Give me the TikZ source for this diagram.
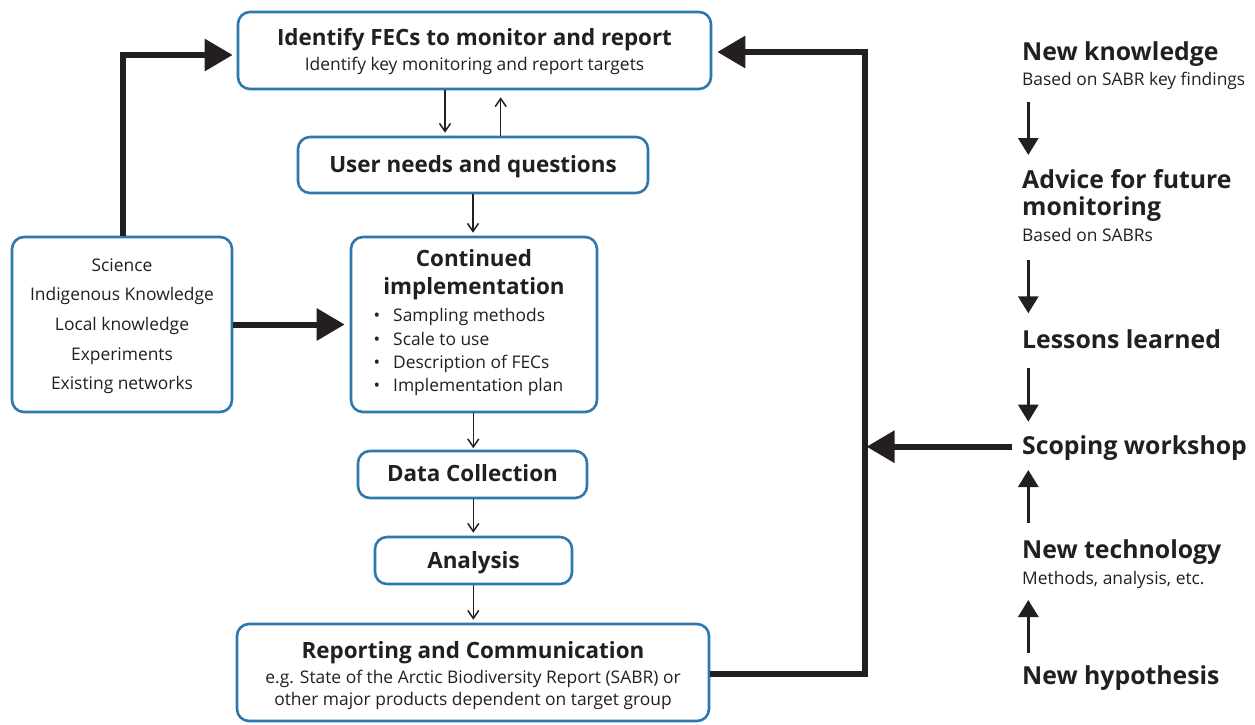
\documentclass[tikz,border=0pt]{standalone}
\usepackage{fontspec}
\setmainfont{Open Sans}
\usetikzlibrary{arrows.meta}
\definecolor{boxblue}{HTML}{2E78AE}
\definecolor{ink}{HTML}{231F20}
\newcommand\hdfont{\fontsize{22.4}{27}\selectfont\bfseries}
\newcommand\bodyfont{\fontsize{17.4}{22}\selectfont}
\newcommand\sidefont{\fontsize{24.8}{27}\selectfont\bfseries}
\begin{document}
\begin{tikzpicture}[x=1pt,y=-1pt,
  frame/.style={draw=boxblue,line width=2.6pt,rounded corners=12pt,fill=white,inner sep=0pt},
  hd/.style={anchor=base,inner sep=0pt,text=ink,font=\hdfont},
  body/.style={anchor=base,inner sep=0pt,text=ink,font=\bodyfont},
  bodyw/.style={anchor=base west,inner sep=0pt,text=ink,font=\bodyfont},
  side/.style={anchor=base west,inner sep=0pt,text=ink,font=\sidefont},
  sidesub/.style={anchor=base west,inner sep=0pt,text=ink,font=\bodyfont},
  thin/.style={draw=ink,line width=1.5pt,-{Straight Barb[length=8pt,width=11pt,line width=1.5pt]}},
  heavy/.style={draw=ink,line width=6pt,line join=miter,-{Triangle[length=28pt,width=31pt]}},
  mid/.style={draw=ink,line width=3pt,-{Triangle[length=17pt,width=20pt]}}]
\useasboundingbox (0,0) rectangle (1255,724);

% boxes of the main flow
\node[frame,minimum width=473pt,minimum height=77pt] (idf) at (474.5,50.5) {};
\node[frame,minimum width=350pt,minimum height=56pt] (user) at (473,165) {};
\node[frame,minimum width=220pt,minimum height=175pt] (src) at (122,324.5) {};
\node[frame,minimum width=246pt,minimum height=175pt] (cont) at (474,324.5) {};
\node[frame,minimum width=229pt,minimum height=47pt] (data) at (472.5,474.5) {};
\node[frame,minimum width=197pt,minimum height=47pt] (anl) at (473.5,560.5) {};
\node[frame,minimum width=472pt,minimum height=97pt] (rep) at (473,672.5) {};

% box texts
\node[hd] (idfT) at (474.5,45) {Identify FECs to monitor and report};
\node[body] (idfS) at (474.5,70) {Identify key monitoring and report targets};
\node[hd] (userT) at (473,172) {User needs and questions};

\node[body] (src1) at (122,271.7) {Science};
\node[body] (src2) at (122,300.7) {Indigenous Knowledge};
\node[body] (src3) at (122,330) {Local knowledge};
\node[body] (src4) at (122,360) {Experiments};
\node[body] (src5) at (122,389.3) {Existing networks};

\node[hd] (contT1) at (474,266.7) {Continued};
\node[hd] (contT2) at (474,294) {implementation};
\foreach \y/\t [count=\i] in {321.7/Sampling methods,345/Scale to use,368.3/Description of FECs,391.7/Implementation plan}{
  \node[body] (dot\i) at (377,\y) {\textbullet};
  \node[bodyw] (item\i) at (393,\y) {\t};
}

\node[hd] (dataT) at (472.5,481.7) {Data Collection};
\node[hd] (anlT) at (473.5,568) {Analysis};
\node[hd] (repT) at (473,658) {Reporting and Communication};
\node[body] (repS1) at (473,683) {e.g. State of the Arctic Biodiversity Report (SABR) or};
\node[body] (repS2) at (473,705) {other major products dependent on target group};

% side column
\node[side] (nk) at (1022,60) {New knowledge};
\node[sidesub] (nkS) at (1022,85) {Based on SABR key findings};
\node[side] (adv1) at (1022,188) {Advice for future};
\node[side] (adv2) at (1022,215) {monitoring};
\node[sidesub] (advS) at (1022,241.7) {Based on SABRs};
\node[side] (les) at (1022,348.3) {Lessons learned};
\node[side] (scop) at (1022,454) {Scoping workshop};
\node[side] (tech) at (1022,558.3) {New technology};
\node[sidesub] (techS) at (1022,584) {Methods, analysis, etc.};
\node[side] (hyp) at (1022,684) {New hypothesis};

\coordinate (a1s) at (1028.3,101.7); \coordinate (a1e) at (1028.3,155);
\coordinate (a2s) at (1028.3,260);   \coordinate (a2e) at (1028.3,313.3);
\coordinate (a3s) at (1028.3,368);   \coordinate (a3e) at (1028.3,421.7);
\coordinate (a4s) at (1028.3,523);   \coordinate (a4e) at (1028.3,470);
\coordinate (a5s) at (1028.3,653);   \coordinate (a5e) at (1028.3,600);
\draw[mid] (a1s) -- (a1e);
\draw[mid] (a2s) -- (a2e);
\draw[mid] (a3s) -- (a3e);
\draw[mid] (a4s) -- (a4e);
\draw[mid] (a5s) -- (a5e);

% thin connectors of the main flow
\draw[thin,shorten >=3pt] ([xshift=-29.5pt]idf.south) -- ([xshift=-29.5pt]idf.south |- user.north);
\draw[thin,shorten >=7pt] ([xshift=27.7pt]user.north) -- ([xshift=27.7pt]user.north |- idf.south);
\draw[thin,shorten >=3pt] (user.south) -- (user.south |- cont.north);
\draw[thin,shorten >=1.5pt] ([xshift=-0.7pt]cont.south) -- ([xshift=-0.7pt]cont.south |- data.north);
\draw[thin,shorten >=3pt] ([xshift=0.8pt]data.south) -- ([xshift=0.8pt]data.south |- anl.north);
\draw[thin,shorten >=3pt] ([xshift=-0.2pt]anl.south) -- ([xshift=-0.2pt]anl.south |- rep.north);

% heavy connectors
\draw[heavy,shorten >=4pt] ([xshift=0.5pt]src.north) |- ([yshift=-4.5pt]idf.west);
\draw[heavy,shorten >=5pt] (src.east) -- (cont.west);
\coordinate (loop) at (865,52);
\draw[heavy,shorten >=5pt] ([yshift=-1pt]rep.east) -| (loop) -- (loop -| idf.east);
\draw[heavy,shorten >=11.5pt] ([xshift=-10pt,yshift=7.3pt]scop.base west) -- ([xshift=-10pt,yshift=7.3pt]scop.base west -| loop);
\end{tikzpicture}
\end{document}
